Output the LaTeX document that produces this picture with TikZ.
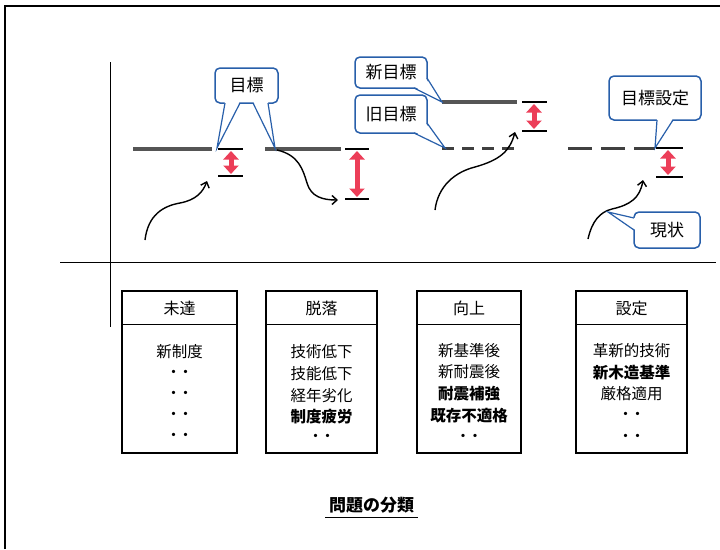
\documentclass[tikz,border=0pt]{standalone}
\usepackage{fontspec}
\newfontfamily\jp{Noto Sans CJK JP}
\usetikzlibrary{arrows.meta}
\definecolor{cblue}{RGB}{40,95,170}
\definecolor{cred}{RGB}{236,62,88}
\definecolor{lgray}{RGB}{85,85,85}
\tikzset{
  frameline/.style={line width=1.4pt,black},
  axisline/.style={line width=1pt,black},
  level/.style={line width=3.2pt,lgray},
  dlevel/.style={line width=3pt,black!75},
  tick/.style={line width=1.4pt,black},
  gap/.style={cred,line width=5pt,{Triangle[width=15pt,length=8.5pt]}-{Triangle[width=15pt,length=8.5pt]}},
  path/.style={line width=1.4pt,black,-{Straight Barb[length=5pt,width=9pt,line width=1.4pt]}},
  callout/.style={draw=cblue,line width=1.5pt,rounded corners=5pt,fill=white,inner sep=0pt,font=\jp\fontsize{17}{17}\selectfont},
  ptr/.style={draw=cblue,line width=1.2pt},
  catbox/.style={draw=black,line width=1.7pt,inner sep=0pt},
  head/.style={font=\jp\fontsize{16}{16}\selectfont},
  body/.style={font=\jp\fontsize{15.5}{16}\selectfont},
  dots/.style={font=\jp\bfseries\fontsize{12}{12}\selectfont},
}
\begin{document}
\begin{tikzpicture}[x=1pt,y=-1pt]
\useasboundingbox (0,0) rectangle (720,549);
% frame
\draw[frameline] (5,549) -- (5,6) -- (720,6);
% axes
\coordinate (ax1) at (110,62); \coordinate (ax2) at (110,327);
\coordinate (hx1) at (60,262); \coordinate (hx2) at (716,262);
\draw[axisline] (ax1) -- (ax2);
\draw[axisline] (hx1) -- (hx2);

% ---- group 1 : 未達
\coordinate (g1a) at (133,149); \coordinate (g1b) at (212,149);
\draw[level] (g1a) -- (g1b);
\coordinate (t1a) at (218,149); \coordinate (t1b) at (243,149);
\coordinate (t1c) at (218,176); \coordinate (t1d) at (243,176);
\draw[tick] (t1a) -- (t1b); \draw[tick] (t1c) -- (t1d);
\coordinate (r1a) at (231,151); \coordinate (r1b) at (231,174);
\draw[gap] (r1a) -- (r1b);
\coordinate (c1a) at (145,240); \coordinate (c1b) at (207,181);
\draw[path] (c1a) .. controls (148,215) and (163,206) .. (180,203) .. controls (196,200) and (203,192) .. (c1b);

% ---- group 2 : 脱落
\coordinate (g2a) at (265,149); \coordinate (g2b) at (341,149);
\draw[level] (g2a) -- (g2b);
\coordinate (t2a) at (345,149); \coordinate (t2b) at (369,149);
\coordinate (t2c) at (345,199); \coordinate (t2d) at (369,199);
\draw[tick] (t2a) -- (t2b); \draw[tick] (t2c) -- (t2d);
\coordinate (r2a) at (357,151); \coordinate (r2b) at (357,197);
\draw[gap] (r2a) -- (r2b);
\coordinate (c2a) at (277,150); \coordinate (c2b) at (338,200);
\draw[path] (c2a) .. controls (299,155) and (303,170) .. (307,183) .. controls (311,197) and (323,200) .. (c2b);

% ---- group 3 : 向上
\coordinate (g3a) at (442,102); \coordinate (g3b) at (517,102);
\draw[level] (g3a) -- (g3b);
\coordinate (d3a) at (442,148); \coordinate (d3b) at (517,148);
\draw[dlevel,dash pattern=on 12pt off 8pt] (d3a) -- (d3b);
\coordinate (t3a) at (522,102); \coordinate (t3b) at (547,102);
\coordinate (t3c) at (522,131); \coordinate (t3d) at (547,131);
\draw[tick] (t3a) -- (t3b); \draw[tick] (t3c) -- (t3d);
\coordinate (r3a) at (534,104); \coordinate (r3b) at (534,129);
\draw[gap] (r3a) -- (r3b);
\coordinate (c3a) at (435,210); \coordinate (c3b) at (515,132);
\draw[path] (c3a) .. controls (438,186) and (455,172) .. (475,167) .. controls (500,160) and (510,151) .. (c3b);

% ---- group 4 : 設定
\coordinate (d4a) at (568,148); \coordinate (d4b) at (655,148);
\draw[dlevel,dash pattern=on 24pt off 9pt] (d4a) -- (d4b);
\coordinate (t4a) at (656,148); \coordinate (t4b) at (683,148);
\coordinate (t4c) at (656,177); \coordinate (t4d) at (683,177);
\draw[tick] (t4a) -- (t4b); \draw[tick] (t4c) -- (t4d);
\coordinate (r4a) at (668,150); \coordinate (r4b) at (668,175);
\draw[gap] (r4a) -- (r4b);
\coordinate (c4a) at (588,239); \coordinate (c4b) at (643,180);
\draw[path] (c4a) .. controls (592,221) and (600,212) .. (612,209) .. controls (630,205) and (640,198) .. (c4b);

% ---- callouts
\node[callout,minimum width=63pt,minimum height=35pt] (k1) at (246.5,85.5) {目標};
\fill[white] (225,101) -- (217,148) -- (240,101) -- cycle;
\draw[ptr] (225,103) -- (217,148) -- (240,103);
\fill[white] (253,101) -- (275,148) -- (268,101) -- cycle;
\draw[ptr] (253,103) -- (275,148) -- (268,103);

\node[callout,minimum width=72pt,minimum height=31pt] (k2) at (391,72.5) {新目標};
\fill[white] (414,86.5) -- (442,102) -- (425.5,78) -- cycle;
\draw[ptr] (414,88) -- (442,102) -- (427,78);

\node[callout,minimum width=72pt,minimum height=38pt] (k3) at (391,114) {旧目標};
\fill[white] (414,131.5) -- (445,148) -- (425.5,123) -- cycle;
\draw[ptr] (414,133) -- (445,148) -- (427,123);

\node[callout,minimum width=92pt,minimum height=44pt] (k4) at (655,98) {目標設定};
\fill[white] (657,118.5) -- (655,148) -- (673,118.5) -- cycle;
\draw[ptr] (657,120) -- (655,148) -- (673,120);

\node[callout,minimum width=66pt,minimum height=36pt] (k5) at (667,230) {現状};
\fill[white] (635.5,218) -- (608,212) -- (635.5,230) -- cycle;
\draw[ptr] (634,218) -- (608,212) -- (634,230);

% ---- category boxes
\node[catbox,minimum width=115pt,minimum height=162pt] (B1) at (179.5,372) {};
\node[catbox,minimum width=111pt,minimum height=162pt] (B2) at (321.5,372) {};
\node[catbox,minimum width=104pt,minimum height=162pt] (B3) at (469,372) {};
\node[catbox,minimum width=111pt,minimum height=162pt] (B4) at (631.5,372) {};
\foreach \b in {B1,B2,B3,B4}
  \draw[line width=1.3pt] ([yshift=-34pt]\b.north west) -- ([yshift=-34pt]\b.north east);

\node[head] (H1) at (179.5,308) {未達};
\node[head] (H2) at (321.5,308) {脱落};
\node[head] (H3) at (469,308) {向上};
\node[head] (H4) at (631.5,308) {設定};

% box 1
\node[body] (a1) at (179.5,352) {新制度};
\node[dots] (a2) at (179.5,373) {・・};
\node[dots] (a3) at (179.5,394) {・・};
\node[dots] (a4) at (179.5,415) {・・};
\node[dots] (a5) at (179.5,436) {・・};
% box 2
\node[body] (b1) at (321.5,352) {技術低下};
\node[body] (b2) at (321.5,374) {技能低下};
\node[body] (b3) at (321.5,396) {経年劣化};
\node[body] (b4) at (321.5,417) {\bfseries 制度疲労};
\node[dots] (b5) at (321.5,437) {・・};
% box 3
\node[body] (c1) at (469,351) {新基準後};
\node[body] (c2) at (469,372) {新耐震後};
\node[body] (c3) at (469,394) {\bfseries 耐震補強};
\node[body] (c4) at (469,416) {\bfseries 既存不適格};
\node[dots] (c5) at (469,437) {・・};
% box 4
\node[body] (e1) at (631.5,351) {革新的技術};
\node[body] (e2) at (631.5,373) {\bfseries 新木造基準};
\node[body] (e3) at (631.5,394) {厳格適用};
\node[dots] (e4) at (631.5,415) {・・};
\node[dots] (e5) at (631.5,437) {・・};

% title
\node[font=\jp\bfseries\fontsize{17}{17}\selectfont] (T) at (371.5,505) {問題の分類};
\draw[line width=1.2pt] ([yshift=-1pt]T.south west) -- ([yshift=-1pt]T.south east);
\end{tikzpicture}
\end{document}
